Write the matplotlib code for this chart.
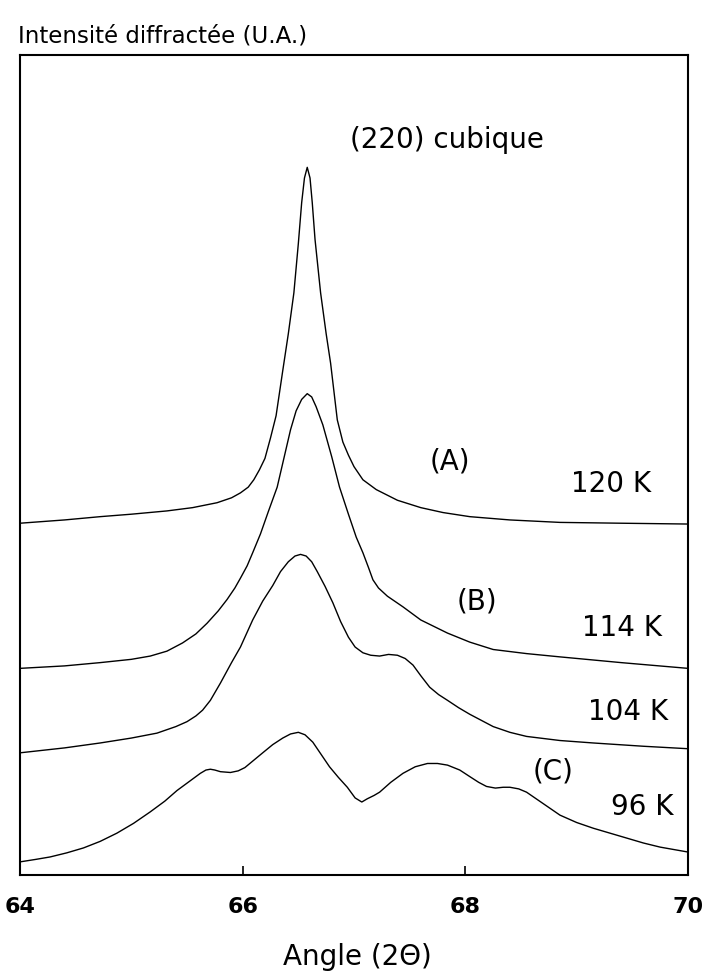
import matplotlib
matplotlib.use("Agg")
import matplotlib.pyplot as plt

plt.rcParams['font.family'] = ['DejaVu Sans']

# Angle (2 theta) and intensity (arbitrary units, stacked curves)
angle_120K = [64.00, 64.40, 64.72, 65.00, 65.32, 65.55, 65.77, 65.90, 65.98, 66.05, 66.10, 66.15,
              66.20, 66.25, 66.30, 66.36, 66.41, 66.46, 66.50, 66.53, 66.555, 66.58, 66.605, 66.625,
              66.65, 66.70, 66.75, 66.79, 66.85, 66.90, 66.95, 67.00, 67.08, 67.20, 67.39, 67.60,
              67.80, 68.04, 68.40, 68.85, 69.40, 70.00]
int_120K = [42.9, 43.3, 43.7, 44.0, 44.4, 44.8, 45.4, 46.0, 46.6, 47.3, 48.2, 49.4,
            50.8, 53.3, 56.0, 61.5, 66.0, 71.0, 77.0, 82.0, 85.0, 86.3, 85.0, 82.0,
            77.5, 71.0, 66.0, 62.4, 55.5, 52.8, 51.2, 49.8, 48.2, 47.0, 45.7, 44.8,
            44.2, 43.7, 43.3, 43.0, 42.9, 42.8]

angle_114K = [64.00, 64.40, 64.72, 65.00, 65.17, 65.32, 65.46, 65.58, 65.68, 65.78, 65.86, 65.93,
              65.98, 66.04, 66.09, 66.16, 66.23, 66.31, 66.37, 66.43, 66.48, 66.53, 66.58, 66.62,
              66.66, 66.72, 66.80, 66.87, 66.95, 67.02, 67.08, 67.13, 67.17, 67.22, 67.30, 67.44,
              67.60, 67.84, 68.04, 68.25, 68.55, 68.85, 69.40, 70.00]
int_114K = [25.2, 25.5, 25.9, 26.3, 26.7, 27.3, 28.3, 29.4, 30.7, 32.2, 33.6, 35.0,
            36.2, 37.7, 39.3, 41.6, 44.3, 47.3, 50.8, 54.3, 56.6, 58.0, 58.7, 58.3,
            57.1, 54.9, 51.0, 47.3, 44.0, 41.2, 39.3, 37.5, 36.0, 35.0, 34.0, 32.7,
            31.1, 29.5, 28.4, 27.5, 27.0, 26.6, 25.9, 25.2]

angle_104K = [64.00, 64.40, 64.72, 65.00, 65.23, 65.40, 65.50, 65.58, 65.64, 65.71, 65.80, 65.90,
              65.98, 66.09, 66.18, 66.27, 66.34, 66.41, 66.47, 66.52, 66.57, 66.62, 66.67, 66.74,
              66.81, 66.88, 66.95, 67.01, 67.08, 67.15, 67.23, 67.31, 67.39, 67.46, 67.53, 67.60,
              67.68, 67.76, 67.84, 67.94, 68.04, 68.25, 68.40, 68.55, 68.85, 69.15, 69.60, 70.00]
int_104K = [14.9, 15.5, 16.1, 16.7, 17.3, 18.1, 18.7, 19.4, 20.1, 21.3, 23.4, 25.9,
            27.8, 31.1, 33.4, 35.3, 37.0, 38.2, 38.9, 39.1, 38.9, 38.2, 37.0, 35.2,
            33.2, 30.9, 29.0, 27.8, 27.1, 26.8, 26.7, 26.9, 26.8, 26.4, 25.6, 24.3,
            22.9, 22.0, 21.3, 20.4, 19.6, 18.1, 17.4, 16.9, 16.4, 16.1, 15.7, 15.4]

angle_96K = [64.00, 64.14, 64.27, 64.42, 64.57, 64.72, 64.87, 65.02, 65.17, 65.30, 65.41, 65.52,
             65.62, 65.67, 65.71, 65.75, 65.80, 65.89, 65.96, 66.02, 66.10, 66.18, 66.27, 66.36,
             66.43, 66.50, 66.56, 66.63, 66.70, 66.78, 66.86, 66.94, 67.01, 67.07, 67.12, 67.18,
             67.23, 67.33, 67.44, 67.55, 67.66, 67.75, 67.84, 67.95, 68.04, 68.12, 68.19, 68.27,
             68.34, 68.40, 68.48, 68.55, 68.70, 68.85, 69.00, 69.15, 69.30, 69.45, 69.60, 69.75,
             70.00]
int_96K = [1.6, 1.9, 2.2, 2.7, 3.3, 4.1, 5.1, 6.3, 7.7, 9.0, 10.3, 11.4,
           12.4, 12.8, 12.9, 12.8, 12.6, 12.5, 12.7, 13.1, 14.0, 14.9, 15.9, 16.7,
           17.2, 17.4, 17.1, 16.2, 14.8, 13.2, 11.9, 10.7, 9.4, 8.9, 9.3, 9.7,
           10.1, 11.3, 12.4, 13.2, 13.6, 13.6, 13.4, 12.8, 12.0, 11.3, 10.8, 10.6,
           10.7, 10.7, 10.5, 10.1, 8.7, 7.3, 6.4, 5.7, 5.1, 4.5, 3.9, 3.4,
           2.8]

x_ticks = [64, 66, 68, 70]
x_ticklabels = ["64", "66", "68", "70"]

W, H = 707, 975
fig = plt.figure(figsize=(W / 100, H / 100), dpi=100)
ax = fig.add_axes([20 / W, 1 - 875 / H, 668 / W, 820 / H])

for xs, ys in [(angle_120K, int_120K), (angle_114K, int_114K),
               (angle_104K, int_104K), (angle_96K, int_96K)]:
    ax.plot(xs, ys, color='black', lw=1.0, solid_joinstyle='round')

ax.set_xlim(64, 70)
ax.set_ylim(0, 100)
ax.set_yticks([])
ax.set_xticks(x_ticks)
ax.set_xticklabels(x_ticklabels, fontsize=16, fontweight='bold')
ax.tick_params(axis='x', direction='in', length=6.5, width=1.2, pad=16)
for s in ax.spines.values():
    s.set_linewidth(1.5)

ax.set_xlabel("Angle (2Θ)", fontsize=20)
ax.xaxis.set_label_coords(0.5045, -0.10)
ax.xaxis.label.set_va('center')

ax.text(-0.003, 1.023, "Intensité diffractée (U.A.)", transform=ax.transAxes,
        ha='left', va='center', fontsize=16.5)

labels = [("(220) cubique", 67.835, 89.6), ("(A)", 67.86, 50.4), ("120 K", 69.31, 47.7),
          ("(B)", 68.10, 33.4), ("114 K", 69.41, 30.1), ("104 K", 69.46, 19.9),
          ("(C)", 68.79, 12.6), ("96 K", 69.59, 8.3)]
for t, x, y in labels:
    ax.text(x, y, t, ha='center', va='center', fontsize=20)

fig.savefig("out.png", dpi=100)
